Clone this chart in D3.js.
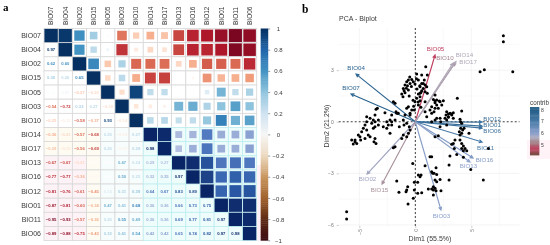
<!DOCTYPE html>
<html>
<head>
<meta charset="utf-8">
<script src="https://cdn.jsdelivr.net/npm/d3@7"></script>
<style>
  html, body { margin: 0; padding: 0; background: #fff; }
  svg { display: block; filter: blur(0.3px); }
  text { font-family: "Liberation Sans", Arial, sans-serif; }
</style>
</head>
<body>
<svg id="chart" width="550" height="245"></svg>
<script>
// panel a: correlation matrix, lower triangle only, row by row
const bioVars = ['BIO07', 'BIO04', 'BIO02', 'BIO15', 'BIO05', 'BIO03', 'BIO10', 'BIO14', 'BIO17', 'BIO13', 'BIO16', 'BIO12', 'BIO01', 'BIO11', 'BIO06'];
const corrLower = [
  [],
  [0.97],
  [0.62, 0.60],
  [0.35, 0.26, 0.65],
  [0.03, 0.07, -0.27, -0.20],
  [-0.54, -0.72, 0.32, 0.27, -0.18],
  [-0.25, -0.11, -0.58, -0.37, 0.93, -0.14],
  [-0.36, -0.21, -0.57, -0.68, 0.25, -0.10, 0.27],
  [-0.29, -0.15, -0.56, -0.69, 0.25, -0.07, 0.28, 0.98],
  [-0.67, -0.67, -0.21, -0.01, -0.01, 0.47, 0.24, 0.29, 0.27],
  [-0.77, -0.77, -0.36, -0.05, 0.00, 0.50, 0.25, 0.32, 0.35, 0.97],
  [-0.81, -0.76, -0.61, -0.45, 0.14, 0.31, 0.39, 0.64, 0.67, 0.83, 0.89],
  [-0.87, -0.81, -0.60, -0.34, 0.47, 0.41, 0.68, 0.36, 0.36, 0.66, 0.73, 0.75],
  [-0.95, -0.93, -0.57, -0.36, 0.25, 0.55, 0.49, 0.36, 0.36, 0.69, 0.77, 0.81, 0.97],
  [-0.89, -0.88, -0.75, -0.43, 0.32, 0.41, 0.54, 0.42, 0.42, 0.65, 0.74, 0.82, 0.97, 0.98]
];
const corrTicks = [-1, -0.8, -0.6, -0.4, -0.2, 0, 0.2, 0.4, 0.6, 0.8, 1];

// panel b: PCA biplot
const loadingNames = ['BIO04', 'BIO07', 'BIO05', 'BIO10', 'BIO14', 'BIO17', 'BIO12', 'BIO01', 'BIO06', 'BIO11', 'BIO16', 'BIO13', 'BIO03', 'BIO02', 'BIO15'];
const loadingDim1 = [-5.29, -5.74, 1.76, 3.54, 3.63, 3.37, 5.96, 5.96, 5.96, 5.96, 5.15, 4.88, 2.29, -4.31, -2.97];
const loadingDim2 = [2.77, 1.61, 3.88, 3.43, 3.49, 3.41, -0.02, -0.25, -0.37, -1.18, -2.11, -2.34, -5.13, -3.04, -3.62];
const loadingContrib = [7.7, 7.9, 4.7, 5.3, 5.6, 5.6, 7.3, 7.5, 7.4, 7.0, 6.2, 6.0, 6.1, 5.8, 5.4];
const contribTicks = [5, 6, 7, 8];
const pcaPoints = [
  [0.12,2.77],[0.57,2.72],[-0.62,2.42],[-0.32,2.46],[-0.77,2.33],[-0.92,2.13],[-0.47,2.23],[-0.18,2.33],[-1.07,1.94],[-1.21,1.61],
  [-0.62,1.84],[-0.92,1.69],[-0.03,2.19],[0.27,2.42],[0.71,2.23],[0.27,1.61],[0.12,1.36],[0.42,1.45],[-0.03,1.16],[0.42,1.22],
  [0.27,0.97],[-0.09,0.68],[0.87,1.16],[-1.96,1.16],[-1.81,1.07],[-3.39,0.78],[-3.51,0.72],[-1.72,0.58],[-1.52,0.49],[-2.71,0.52],
  [-4.34,0.29],[-4.04,0.20],[-3.75,0.10],[-4.34,0],[-3.89,-0.09],[-3.6,0],[-4.49,-0.19],[-3.3,-0.19],[-4.64,-0.38],[-3.75,-0.38],
  [-2.26,0.10],[-2.11,0],[-1.81,0.10],[-2.41,-0.19],[-2.11,-0.19],[-2.55,-0.38],[-1.43,-0.29],[-1.07,0.10],[-1.01,-0.19],[-0.47,0.39],
  [-0.77,-0.09],[-0.54,-0.29],[-0.5,2.6],[-0.7,2.1],[-0.35,2.05],[-1,1.8],[-0.8,1.95],[-0.55,1.5],[0.1,2.5],[0.4,2.1],
  [0.15,1.9],[0.5,1.7],[-1.1,1.45],[-0.2,1.25],[0.25,1.15],[0.5,0.85],[-0.15,0.9],[-3.6,0.39],[-3.3,0.1],[-2.11,0.39],
  [-2.55,0],[-1.66,0.49],[-0.77,0.78],[-0.47,0.49],[-0.62,0.87],[-0.32,0.68],[-0.92,0.39],
  [-4.79,-0.58],[-5.09,-0.77],[-5.38,-1.06],[-5.68,-1.06],[-5.54,-1.30],[-5.23,-1.26],[-5.38,-1.16],[-4.88,-1.06],[-4.49,-0.97],[-4.94,-0.87],
  [-4.2,-0.77],[-4.34,-0.48],[-3.6,-0.97],[-3.51,-1.26],[-3.69,-1.16],[-4.04,-0.87],[-1.81,-1.45],[-1.96,-1.51],[-1.07,-0.77],[-0.62,-0.67],
  [-0.47,-0.48],[-1.21,-0.97],[-0.77,-0.87],[-2.26,-0.67],[-2.86,-0.29],[-3.6,-0.29],[-0.23,-2.42],[0.27,-3.10],[0.42,-3.2],[0.51,-3.1],
  [-0.09,-3.52],[0.21,-3.52],[-1.66,-3.45],[-1.46,-4.1],[-0.77,-3.97],[-0.68,-3.78],[-0.83,-4.07],[-0.09,-3.97],[0.21,-4.16],[0.57,-4.13],
  [-0.18,-4.45],[-0.65,-4.78],[-6.13,-5.23],[-6.13,-5.66],
  [6.07,-3.39],[3.01,-3.39],[2.21,-3.35],[1.76,-3.39],[1.91,-3.49],[1.46,-2.91],[1.67,-3.0],[1.91,-3.06],[1.55,-3],[1.85,-2.67],
  [0.87,-2.56],[1.31,-2.03],[1.46,-2.03],[3.01,-2.52],[4.95,-2.77],[3.09,-1.99],[3.70,-1.9],[4.29,-2.07],[3.39,-1.26],[3.25,-1.31],
  [3.54,-1.06],[3.48,-1.55],[3.99,-1.06],[4.14,-1.26],[4.29,-1.41],[4.44,-1.55],[4.14,-1.55],[4.59,-1.69],[4.29,-1.69],[4.05,-0.38],
  [4.23,-0.48],[3.93,-0.58],[4.14,-0.67],[4.35,-0.38],[3.99,-0.77],[4.79,-0.67],[6.52,-1.55],[2.21,-0.29],[2.8,-0.19],[1.76,-0.87],
  [2.05,-0.81],[1.61,-3.78],[1.76,-3.87],[1.46,-3.91],[1.16,-3.91],[1.61,-3.97],[1.85,-4.01],[2.29,-4.01],[1.61,-4.26],
  [3.75,1.36],[1.61,1.30],[1.76,1.2],[1.91,0.97],[2.21,1.16],[2.5,1.22],[2.36,0.97],[2.05,0.78],[1.67,0.58],[2.8,0.58],
  [2.95,0.45],[3.1,0.49],[3.25,0.45],[2.74,0.39],[3.39,0.52],[2.21,0.2],[1.76,0.1],[2.8,0.1],[3.39,0.2],[3.99,0.14],
  [4.14,-0.09],[2.95,0.26],
  [7.86,5.0],[7.86,4.65],[5.78,2.91],[6.16,3.02],[8.7,2.91],[4.14,0.62],[0.93,3.2],[0.8,2.42],[1.07,2.72],[0.57,2.23],
  [0.87,2.13],[0.42,2.03],[0.71,1.94],[1.02,2.03],[0.57,1.8],[0.87,1.74],[1.07,1.65],[0.42,1.65],[1.76,1.55],[1.91,1.26],
  [1.76,1.1],[2.14,1.2],[1.46,0.87],[1.31,0.68],[1.76,0.78],[1.46,0.49],[0.87,0.58],[1.91,0.2],[1.46,0],[1.02,0.29],
  [2.95,0.29],[3.25,0.39],[2.65,0.2],[4.05,0],[2.27,0]
];

const svg = d3.select('#chart');
const fontDark = '#3a3a3a';

// ---- panel a ----
const xBand = d3.scaleBand().domain(bioVars).range([44, 256.7]);
const yBand = d3.scaleBand().domain(bioVars).range([28.5, 240.6]);
const corrColor = d3.scaleLinear()
  .domain([-1, -0.8, -0.6, -0.4, -0.2, 0, 0.2, 0.4, 0.6, 0.8, 1])
  .range(['#67001f', '#b2182b', '#d6604d', '#f4a582', '#fddbc7', '#ffffff', '#d1e5f0', '#92c5de', '#4393c3', '#2166ac', '#053061']);
// the scan shifts the lower right block of the matrix towards violet blue
const blockColor = d3.scaleLinear()
  .domain([0, 0.3, 0.65, 0.8, 0.9, 1])
  .range(['#ffffff', '#a9b8dc', '#4f78bf', '#2a5aa6', '#1b3f85', '#0a2566']);
const inBlock = (r, c) => r >= 7 && c >= 7;
const colorOf = (v, r, c) => inBlock(r, c) ? blockColor(v) : corrColor(v);

const cells = [];
bioVars.forEach((rowName, r) => {
  bioVars.forEach((colName, c) => {
    const v = r === c ? 1 : (r > c ? corrLower[r][c] : corrLower[c][r]);
    cells.push({ rowName, colName, r, c, v });
  });
});

const cellTint = d => {
  if (inBlock(d.r, d.c)) return '#eefcfc';
  if (d.r >= 9 && d.c <= 2) return '#fdf3f6';
  if (d.r >= 7 && d.c <= 3) return '#fdfbf2';
  if (d.r >= 7 && d.c >= 4 && d.c <= 8) return '#f7fcfc';
  return '#fff';
};

const matrix = svg.append('g');
matrix.selectAll('rect.cell')
  .data(cells)
  .join('rect')
  .attr('class', 'cell')
  .attr('x', d => xBand(d.colName))
  .attr('y', d => yBand(d.rowName))
  .attr('width', xBand.bandwidth())
  .attr('height', yBand.bandwidth())
  .attr('fill', cellTint)
  .attr('stroke', d => inBlock(d.r, d.c) ? '#bfeef0' : '#d8d8d8')
  .attr('stroke-width', 0.8);

matrix.selectAll('rect.square')
  .data(cells.filter(d => d.r <= d.c))
  .join('rect')
  .attr('class', 'square')
  .attr('x', d => xBand(d.colName) + xBand.bandwidth() * (1 - Math.sqrt(Math.abs(d.v))) / 2 + 0.4)
  .attr('y', d => yBand(d.rowName) + yBand.bandwidth() * (1 - Math.sqrt(Math.abs(d.v))) / 2 + 0.4)
  .attr('width', d => Math.max(0, xBand.bandwidth() * Math.sqrt(Math.abs(d.v)) - 0.8))
  .attr('height', d => Math.max(0, yBand.bandwidth() * Math.sqrt(Math.abs(d.v)) - 0.8))
  .attr('fill', d => colorOf(d.v, d.r, d.c));

matrix.selectAll('text.value')
  .data(cells.filter(d => d.r > d.c))
  .join('text')
  .attr('class', 'value')
  .attr('x', d => xBand(d.colName) + xBand.bandwidth() / 2)
  .attr('y', d => yBand(d.rowName) + yBand.bandwidth() / 2 + 1.5)
  .attr('text-anchor', 'middle')
  .attr('font-size', 4.2)
  .attr('font-weight', 'bold')
  .attr('fill', d => colorOf(d.v, d.r, d.c))
  .text(d => d.v.toFixed(2).replace('-', '\u2212'));

matrix.selectAll('text.rowlab')
  .data(bioVars)
  .join('text')
  .attr('class', 'rowlab')
  .attr('x', 41)
  .attr('y', d => yBand(d) + yBand.bandwidth() / 2 + 2.5)
  .attr('text-anchor', 'end')
  .attr('font-size', 7)
  .attr('fill', fontDark)
  .text(d => d);

matrix.selectAll('text.collab')
  .data(bioVars)
  .join('text')
  .attr('class', 'collab')
  .attr('transform', d => `translate(${xBand(d) + xBand.bandwidth() / 2 + 2.3}, 25) rotate(-90)`)
  .attr('font-size', 6.5)
  .attr('fill', fontDark)
  .text(d => d);

svg.append('text').attr('x', 3).attr('y', 11).attr('font-size', 11).attr('font-weight', 'bold')
  .style('font-family', '"Liberation Serif", serif').text('a');

// colour bar, browner on its negative side as in the picture
const barScale = d3.scaleLinear().domain([-1, 1]).range([240.3, 28.5]);
const barColor = d3.scaleLinear()
  .domain([-1, -0.8, -0.6, -0.4, -0.2, 0, 0.2, 0.4, 0.6, 0.8, 1])
  .range(['#3a0a12', '#5e2a14', '#a0622c', '#c9975f', '#ecd9c0', '#f6f6f6', '#cfe2f0', '#92c5de', '#4393c3', '#2166ac', '#053061']);
svg.append('rect').attr('x', 257).attr('y', 165).attr('width', 4).attr('height', 76).attr('fill', '#fff0f8');
svg.append('g').selectAll('rect')
  .data(d3.range(-1, 1, 0.02))
  .join('rect')
  .attr('x', 260.7)
  .attr('y', d => barScale(d + 0.02))
  .attr('width', 7.5)
  .attr('height', d => barScale(d) - barScale(d + 0.02) + 0.4)
  .attr('fill', d => barColor(d + 0.01));

const barAxis = svg.append('g')
  .attr('transform', 'translate(268.2,0)')
  .call(d3.axisRight(barScale).tickValues(corrTicks).tickSize(2).tickFormat(d => String(d).replace('-', '\u2212')));
barAxis.select('.domain').remove();
barAxis.selectAll('line').attr('stroke', '#456').attr('stroke-width', 0.6);
barAxis.selectAll('text')
  .attr('x', 10.3)
  .attr('dy', '0.35em')
  .attr('text-anchor', 'middle')
  .attr('font-size', 6)
  .style('font-family', '"Liberation Sans", Arial, sans-serif')
  .attr('fill', fontDark);

// ---- panel b ----
const pcaX = d3.scaleLinear().domain([-6.84, 9.3]).range([338.7, 519.5]);
const pcaY = d3.scaleLinear().domain([-6.06, 5.45]).range([226, 28]);
const contribColor = d3.scaleLinear()
  .domain([4.15, 4.7, 5.2, 5.6, 6, 7, 8.17])
  .range(['#70503f', '#c04060', '#a07a80', '#b0a8b8', '#8fa2cc', '#4a7ba8', '#1f5a85']);

const plot = svg.append('g');
plot.selectAll('line.gridx')
  .data([-5, -2.5, 0, 2.5, 5, 7.5])
  .join('line')
  .attr('class', 'gridx')
  .attr('x1', d => pcaX(d)).attr('x2', d => pcaX(d))
  .attr('y1', pcaY.range()[1]).attr('y2', pcaY.range()[0])
  .attr('stroke', d => d % 5 === 0 ? '#ececec' : '#f5f5f5')
  .attr('stroke-width', 0.6);
plot.selectAll('line.gridy')
  .data([-6, -4.5, -3, -1.5, 1.5, 3, 4.5])
  .join('line')
  .attr('class', 'gridy')
  .attr('y1', d => pcaY(d)).attr('y2', d => pcaY(d))
  .attr('x1', pcaX.range()[0]).attr('x2', pcaX.range()[1])
  .attr('stroke', d => d % 3 === 0 ? '#ececec' : '#f5f5f5')
  .attr('stroke-width', 0.6);

plot.append('line')
  .attr('x1', pcaX.range()[0]).attr('x2', pcaX.range()[1])
  .attr('y1', pcaY(0)).attr('y2', pcaY(0))
  .attr('stroke', '#111').attr('stroke-width', 0.8).attr('stroke-dasharray', '2,2');
plot.append('line')
  .attr('x1', pcaX(0)).attr('x2', pcaX(0))
  .attr('y1', pcaY.range()[1]).attr('y2', pcaY.range()[0])
  .attr('stroke', '#111').attr('stroke-width', 0.8).attr('stroke-dasharray', '2,2');

const loadings = loadingNames.map((name, i) => ({ name, x: loadingDim1[i], y: loadingDim2[i], contrib: loadingContrib[i] }));

const arrowPath = d => {
  const x0 = pcaX(0), y0 = pcaY(0), x1 = pcaX(d.x), y1 = pcaY(d.y);
  const ang = Math.atan2(y1 - y0, x1 - x0);
  const head = 3.5;
  const hx = s => x1 - head * Math.cos(ang + s * 0.45);
  const hy = s => y1 - head * Math.sin(ang + s * 0.45);
  return `M${x0},${y0}L${x1},${y1}M${hx(1)},${hy(1)}L${x1},${y1}L${hx(-1)},${hy(-1)}`;
};

plot.selectAll('path.loading')
  .data(loadings)
  .join('path')
  .attr('class', 'loading')
  .attr('d', arrowPath)
  .attr('fill', 'none')
  .attr('stroke', d => contribColor(d.contrib))
  .attr('stroke-width', 1.15);

// label offsets from the arrow tips, set by hand so the names do not collide
const labelNudge = {
  BIO04: [0, -6], BIO07: [0, -6], BIO05: [0.5, -6], BIO10: [-10, -5], BIO14: [8.5, -6.7],
  BIO17: [15, -1], BIO12: [10, -3.5], BIO01: [10, -1], BIO06: [10, 3], BIO11: [3.5, 6],
  BIO16: [11.5, 2], BIO13: [-1.5, 4], BIO03: [0.5, 6], BIO02: [0.5, 5], BIO15: [-2.5, 6]
};
plot.selectAll('text.loadlab')
  .data(loadings)
  .join('text')
  .attr('class', 'loadlab')
  .attr('x', d => pcaX(d.x) + labelNudge[d.name][0])
  .attr('y', d => pcaY(d.y) + labelNudge[d.name][1] + 2.2)
  .attr('text-anchor', 'middle')
  .attr('font-size', 6.2)
  .attr('fill', d => contribColor(d.contrib))
  .text(d => d.name);

plot.selectAll('circle')
  .data(pcaPoints)
  .join('circle')
  .attr('cx', d => pcaX(d[0]))
  .attr('cy', d => pcaY(d[1]))
  .attr('r', 1.5)
  .attr('fill', '#000');

const yAxis = svg.append('g')
  .attr('transform', `translate(${pcaX.range()[0]},0)`)
  .call(d3.axisLeft(pcaY).tickValues([-6, -3, 0, 3]).tickSize(2).tickFormat(d => String(d).replace('-', '\u2212')));
yAxis.select('.domain').remove();
yAxis.selectAll('line').attr('stroke', '#999').attr('stroke-width', 0.5);
yAxis.selectAll('text').attr('font-size', 5).attr('fill', '#777')
  .style('font-family', '"Liberation Sans", Arial, sans-serif');

const xAxis = svg.append('g')
  .attr('transform', `translate(0,${pcaY.range()[0]})`)
  .call(d3.axisBottom(pcaX).tickValues([-5, 0, 5]).tickSize(2).tickFormat(d => String(d).replace('-', '\u2212')));
xAxis.select('.domain').remove();
xAxis.selectAll('line').attr('stroke', '#999').attr('stroke-width', 0.5);
xAxis.selectAll('text')
  .attr('font-size', 5).attr('fill', '#777')
  .style('font-family', '"Liberation Sans", Arial, sans-serif')
  .attr('text-anchor', 'end')
  .attr('transform', 'rotate(-90)')
  .attr('x', -3).attr('y', 1.7).attr('dy', 0);

svg.append('text').attr('x', 339).attr('y', 21).attr('font-size', 7).attr('fill', fontDark).text('PCA - Biplot');
svg.append('text').attr('x', 430).attr('y', 240.5).attr('text-anchor', 'middle').attr('font-size', 7).attr('fill', fontDark).text('Dim1 (55.5%)');
svg.append('text').attr('transform', 'translate(328.5,126) rotate(-90)').attr('text-anchor', 'middle').attr('font-size', 7).attr('fill', fontDark).text('Dim2 (21.2%)');
svg.append('text').attr('x', 302).attr('y', 13).attr('font-size', 11.5).attr('font-weight', 'bold')
  .style('font-family', '"Liberation Serif", serif').text('b');

// contrib legend
const legendY = d3.scaleLinear().domain([4.15, 8.17]).range([155, 108]);
svg.append('rect').attr('x', 527).attr('y', 140).attr('width', 23).attr('height', 19).attr('fill', '#fff3f8');
svg.append('text').attr('x', 530).attr('y', 105).attr('font-size', 6.3).attr('fill', fontDark).text('contrib');
svg.append('g').selectAll('rect')
  .data(d3.range(4.15, 8.17, 0.1))
  .join('rect')
  .attr('x', 530)
  .attr('y', d => legendY(d + 0.1))
  .attr('width', 9.3)
  .attr('height', d => legendY(d) - legendY(d + 0.1) + 0.4)
  .attr('fill', d => contribColor(d + 0.05));
svg.append('g').selectAll('text')
  .data(contribTicks)
  .join('text')
  .attr('x', 541)
  .attr('y', d => legendY(d) + 1.8)
  .attr('font-size', 5)
  .attr('fill', fontDark)
  .text(d => d);
</script>
</body>
</html>
